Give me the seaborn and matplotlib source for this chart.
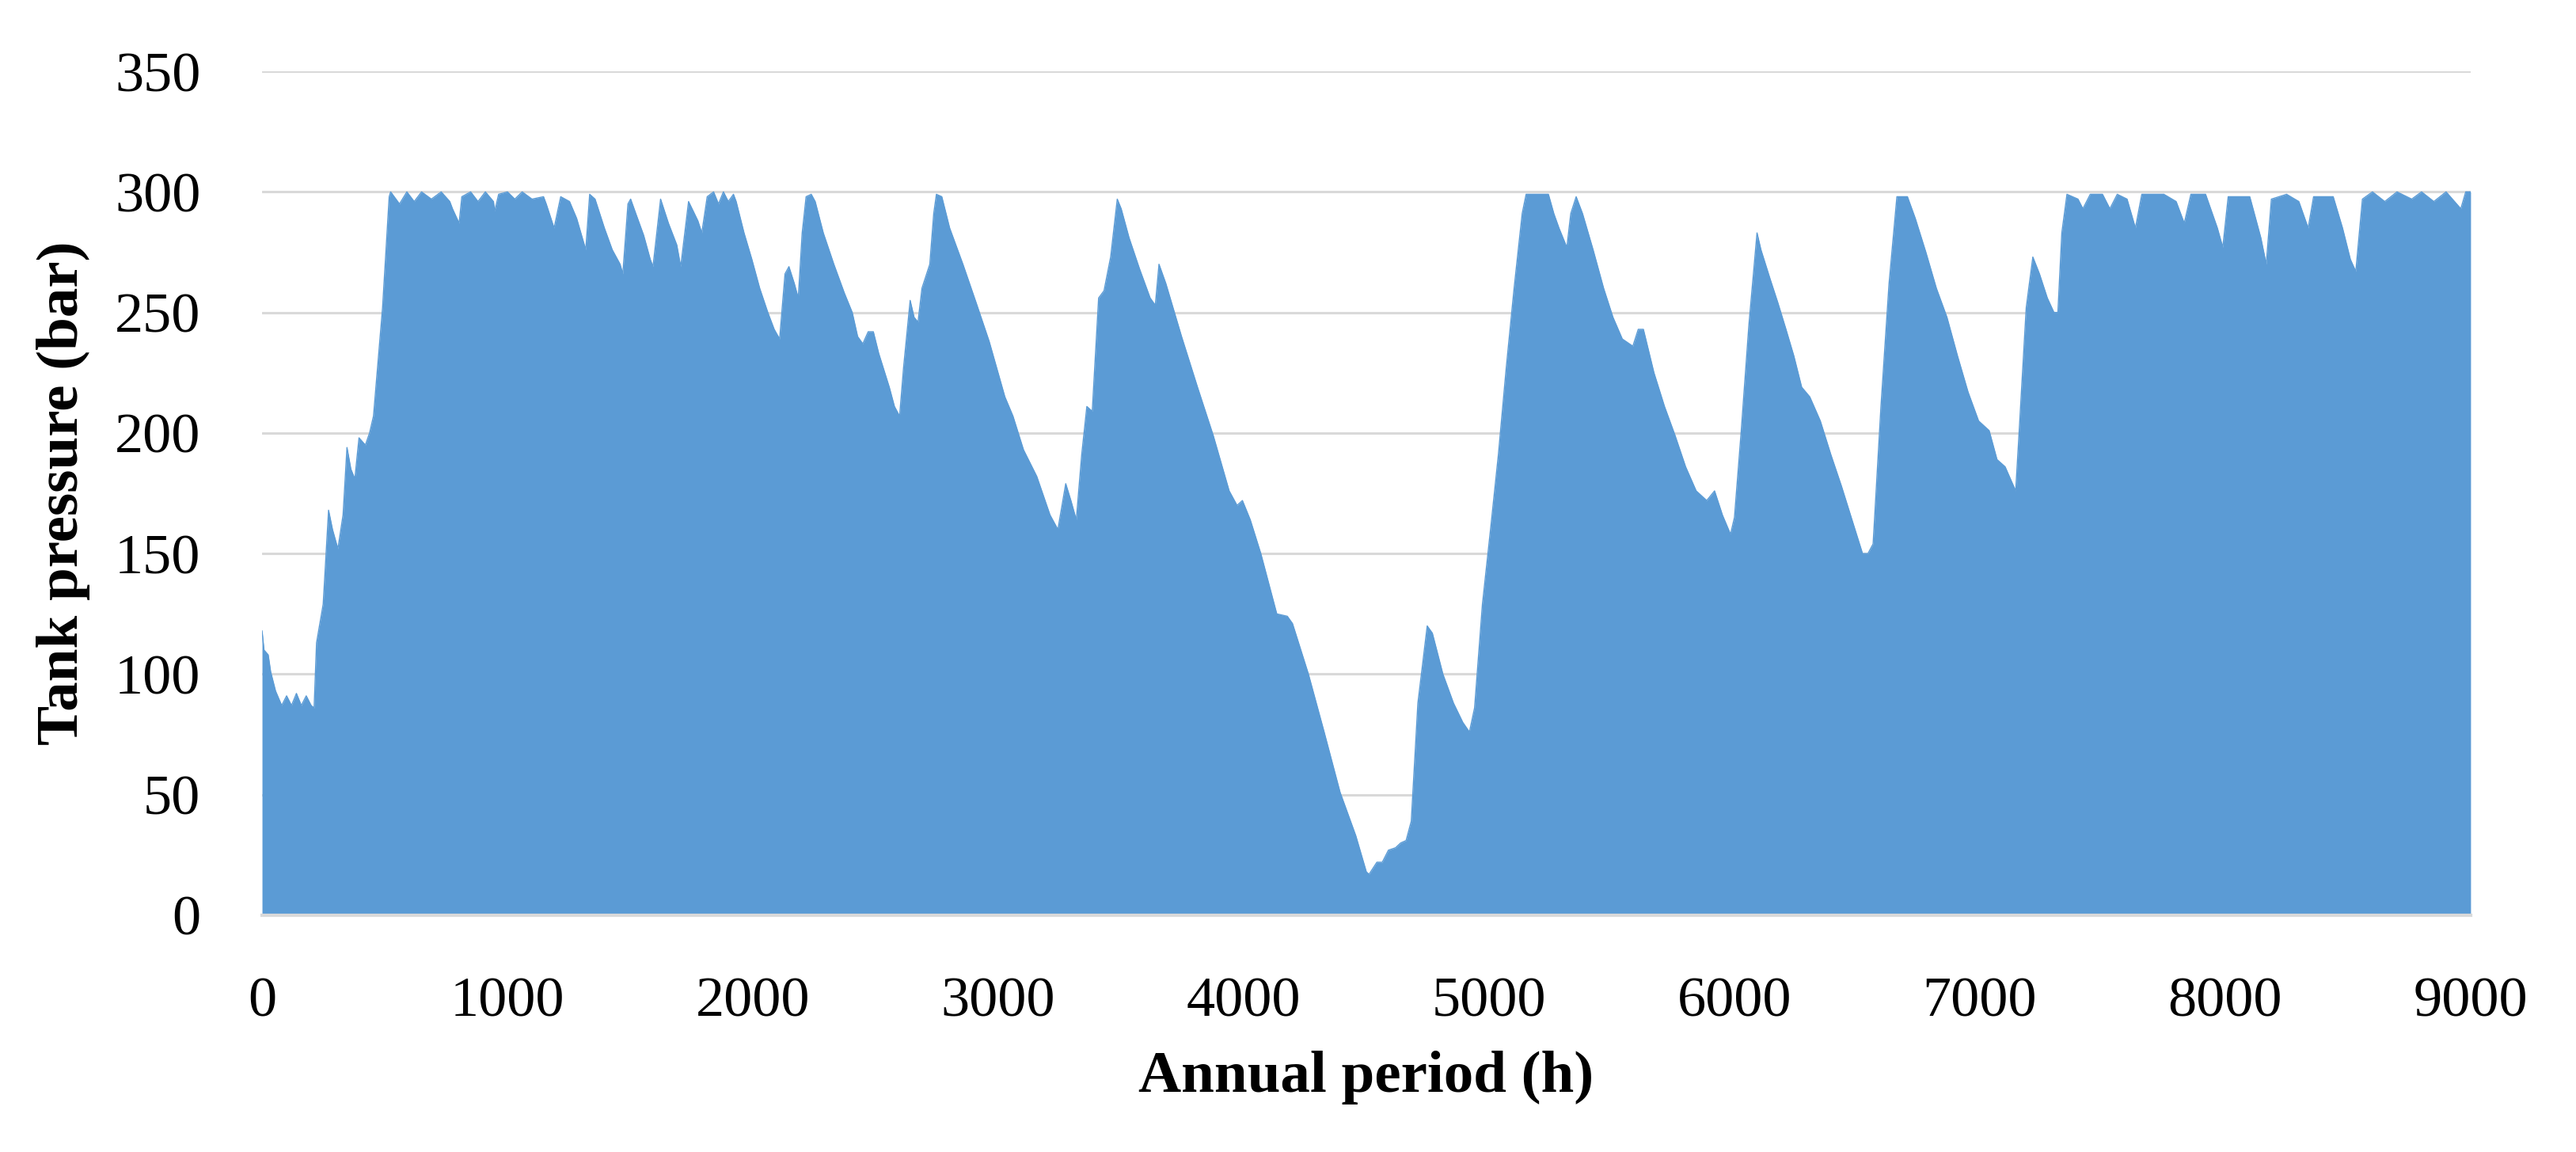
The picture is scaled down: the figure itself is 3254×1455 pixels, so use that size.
import numpy as np
import seaborn as sns
import matplotlib
matplotlib.use("Agg")
import matplotlib.pyplot as plt

# hourly tank pressure (vertices of the envelope)
hours = [
    0, 8, 25, 35, 55, 80, 100, 120, 140, 160, 180, 200, 212, 222, 249, 271, 287, 309, 330, 346,
    362, 378, 395, 421, 438, 454, 491, 518, 524, 560, 590, 620, 650, 690, 730, 765, 776, 803, 814, 850,
    880, 910, 943, 948, 964, 1000, 1030, 1060, 1100, 1147, 1158, 1190, 1217, 1253, 1282, 1319, 1335, 1357, 1395, 1427,
    1459, 1470, 1491, 1502, 1523, 1555, 1582, 1593, 1624, 1656, 1690, 1706, 1738, 1776, 1792, 1814, 1840, 1860, 1880, 1900,
    1921, 1932, 1964, 1996, 2028, 2061, 2087, 2109, 2131, 2147, 2169, 2185, 2201, 2217, 2238, 2254, 2287, 2330, 2373, 2405,
    2427, 2448, 2470, 2491, 2513, 2556, 2577, 2598, 2614, 2641, 2657, 2673, 2689, 2721, 2737, 2748, 2770, 2802, 2856, 2910,
    2963, 3027, 3060, 3103, 3157, 3211, 3243, 3275, 3296, 3318, 3340, 3361, 3383, 3409, 3431, 3458, 3485, 3501, 3533, 3576,
    3619, 3640, 3655, 3683, 3747, 3812, 3876, 3941, 3973, 3995, 4027, 4070, 4135, 4178, 4199, 4264, 4328, 4393, 4457, 4500,
    4511, 4543, 4565, 4590, 4619, 4640, 4662, 4683, 4710, 4748, 4769, 4812, 4855, 4893, 4920, 4941, 4973, 5006, 5038, 5070,
    5102, 5135, 5151, 5200, 5242, 5264, 5285, 5317, 5333, 5355, 5381, 5424, 5467, 5505, 5543, 5586, 5608, 5629, 5672, 5715,
    5758, 5801, 5844, 5887, 5919, 5951, 5984, 6000, 6027, 6059, 6092, 6108, 6145, 6177, 6210, 6242, 6274, 6307, 6350, 6393,
    6436, 6479, 6522, 6544, 6565, 6597, 6630, 6662, 6705, 6737, 6780, 6823, 6866, 6909, 6952, 6995, 7038, 7070, 7103, 7146,
    7157, 7189, 7216, 7243, 7275, 7302, 7318, 7334, 7355, 7400, 7420, 7450, 7500, 7530, 7560, 7600, 7634, 7660, 7750, 7800,
    7833, 7860, 7920, 7968, 7990, 8012, 8100, 8145, 8167, 8188, 8250, 8300, 8338, 8360, 8440, 8478, 8510, 8532, 8559, 8600,
    8650, 8700, 8760, 8800, 8850, 8900, 8960, 8980, 9000,
]
pressure = [
    118, 110, 108, 101, 93, 87, 91, 87, 92, 87, 91, 87, 86, 113, 129, 168, 160, 152, 166, 194,
    185, 181, 198, 195, 200, 207, 252, 298, 300, 295, 300, 296, 300, 297, 300, 296, 293, 287, 298, 300,
    296, 300, 296, 292, 299, 300, 297, 300, 297, 298, 295, 285, 298, 296, 289, 276, 299, 297, 285, 276,
    270, 266, 295, 297, 291, 282, 272, 269, 297, 287, 278, 269, 296, 288, 283, 298, 300, 295, 300, 296,
    299, 296, 283, 272, 260, 250, 243, 239, 266, 269, 262, 256, 283, 298, 299, 296, 283, 270, 258, 250,
    240, 237, 242, 242, 233, 219, 211, 207, 227, 255, 248, 246, 260, 270, 291, 299, 298, 285, 270, 254,
    238, 215, 207, 193, 182, 166, 160, 179, 172, 164, 191, 211, 209, 256, 259, 273, 297, 293, 281, 268,
    256, 253, 270, 262, 240, 219, 199, 176, 170, 172, 164, 150, 125, 124, 121, 100, 76, 51, 33, 18,
    17, 22, 22, 27, 28, 30, 31, 39, 88, 120, 117, 100, 88, 80, 76, 86, 129, 160, 191, 227,
    260, 291, 299, 299, 299, 291, 285, 277, 291, 298, 291, 276, 260, 248, 239, 236, 243, 243, 225, 211,
    199, 186, 176, 172, 176, 166, 158, 165, 200, 245, 283, 276, 264, 254, 243, 232, 219, 215, 205, 191,
    178, 164, 150, 150, 154, 211, 262, 298, 298, 289, 275, 260, 248, 232, 217, 205, 201, 189, 186, 176,
    195, 252, 273, 266, 256, 250, 250, 283, 299, 297, 293, 299, 299, 293, 299, 297, 285, 299, 299, 296,
    287, 299, 299, 285, 277, 298, 298, 281, 270, 297, 299, 296, 285, 298, 298, 285, 272, 267, 297, 300,
    296, 300, 297, 300, 296, 300, 293, 300, 300,
]

x_ticks = list(range(0, 9001, 1000))
y_ticks = list(range(0, 351, 50))

blue = "#5B9BD5"
grid_grey = "#D9D9D9"

sns.set_theme(style="white")
plt.rcParams["font.family"] = ["Liberation Serif", "DejaVu Serif"]
plt.rcParams["text.color"] = "black"

fig = plt.figure(figsize=(32.55, 14.55), dpi=100)
ax = fig.add_axes([0.1017, 0.2055, 0.8571, 0.7326])

sns.lineplot(x=hours, y=pressure, ax=ax, color=blue, linewidth=1.0)
ax.fill_between(hours, pressure, 0, color=blue, linewidth=0)

ax.set_xlim(0, 9000)
ax.set_ylim(0, 350)
ax.set_xticks(x_ticks)
ax.set_yticks(y_ticks)
ax.set_xticklabels([str(t) for t in x_ticks])
ax.set_yticklabels([str(t) for t in y_ticks])

ax.yaxis.grid(True, color=grid_grey, linewidth=2.2)
ax.xaxis.grid(False)
ax.set_axisbelow(True)

for side in ["top", "right", "left"]:
    ax.spines[side].set_visible(False)
ax.spines["bottom"].set_color(grid_grey)
ax.spines["bottom"].set_linewidth(3)
ax.spines["bottom"].set_zorder(5)

ax.tick_params(axis="x", length=16, width=2, color=grid_grey, direction="out",
               labelsize=52, pad=40, labelcolor="black")
ax.tick_params(axis="y", length=0, labelsize=52, pad=56, labelcolor="black")

ax.set_xlabel("Annual period (h)", fontsize=54, fontweight="bold", labelpad=20, color="black")
ax.set_ylabel("Tank pressure (bar)", fontsize=54, fontweight="bold", labelpad=22, color="black")

fig.savefig("out.png", dpi=100, facecolor="white")
